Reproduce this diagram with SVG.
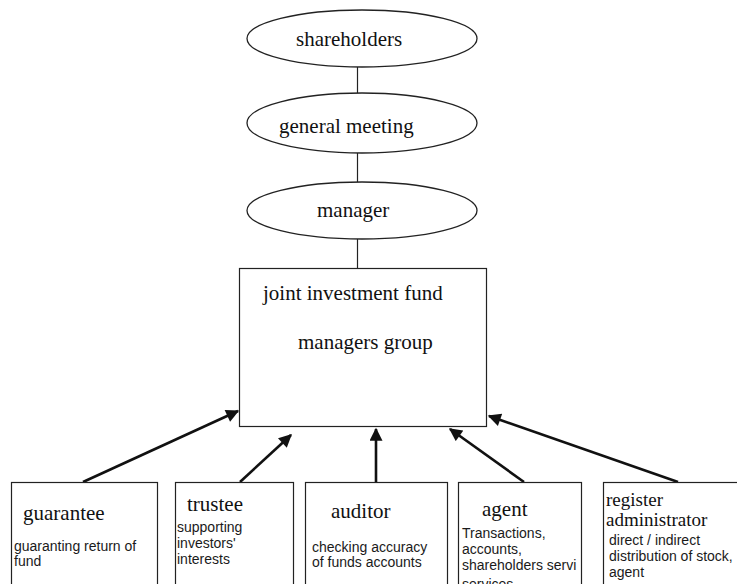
<svg xmlns="http://www.w3.org/2000/svg" width="737" height="584" viewBox="0 0 737 584">
<defs>
<style>
.shape{fill:#fff;stroke:#222;stroke-width:1.3}
.box{fill:#fff;stroke:#222;stroke-width:1.2}
.ser{font-family:"Liberation Serif","Times New Roman",serif;font-size:21px;fill:#111}
.ser19{font-family:"Liberation Serif","Times New Roman",serif;font-size:19px;fill:#111}
.sans{font-family:"Liberation Sans",Arial,sans-serif;font-size:14px;fill:#1a1a1a}
.link{stroke:#222;stroke-width:1.2;fill:none}
.arrow{stroke:#111;stroke-width:2.6;fill:none;marker-end:url(#ah)}
</style>
<marker id="ah" viewBox="0 0 10 10" refX="9" refY="5" markerWidth="5.5" markerHeight="5" orient="auto" markerUnits="strokeWidth">
<path d="M0,0 L10,5 L0,10 z" fill="#111"/>
</marker>
</defs>
<g id="connectors">
<line class="link" x1="357.5" y1="67" x2="357.5" y2="93"/>
<line class="link" x1="357.5" y1="153" x2="357.5" y2="182"/>
<line class="link" x1="357.5" y1="239" x2="357.5" y2="268.5"/>
<line class="arrow" x1="83" y1="482" x2="238" y2="411"/>
<line class="arrow" x1="240" y1="482" x2="291" y2="435"/>
<line class="arrow" x1="376" y1="482" x2="376" y2="429"/>
<line class="arrow" x1="524" y1="482" x2="450" y2="429"/>
<line class="arrow" x1="678" y1="482" x2="489" y2="416"/>
</g>
<g id="shareholders">
<ellipse class="shape" cx="362" cy="38.5" rx="115" ry="28.5"/>
<text class="ser" x="296" y="46">shareholders</text>
</g>
<g id="general-meeting">
<ellipse class="shape" cx="362" cy="123" rx="115" ry="30"/>
<text class="ser" x="279" y="133">general meeting</text>
</g>
<g id="manager">
<ellipse class="shape" cx="362" cy="210.5" rx="115" ry="28.5"/>
<text class="ser" x="317" y="217">manager</text>
</g>
<g id="fund">
<rect class="box" x="239.5" y="268.5" width="247" height="158"/>
<text class="ser" x="263" y="300">joint investment fund</text>
<text class="ser" x="298" y="349">managers group</text>
</g>
<g id="guarantee">
<rect class="box" x="11.5" y="482.5" width="146" height="110"/>
<text class="ser" x="23" y="520">guarantee</text>
<text class="sans" x="14" y="551">guaranting return of</text>
<text class="sans" x="14" y="566">fund</text>
</g>
<g id="trustee">
<rect class="box" x="175.5" y="482.5" width="118" height="110"/>
<text class="ser" x="187" y="511">trustee</text>
<text class="sans" x="177" y="532">supporting</text>
<text class="sans" x="177" y="548">investors'</text>
<text class="sans" x="177" y="564">interests</text>
</g>
<g id="auditor">
<rect class="box" x="305.5" y="482.5" width="142" height="110"/>
<text class="ser" x="331" y="518">auditor</text>
<text class="sans" x="312" y="552">checking accuracy</text>
<text class="sans" x="312" y="567">of funds accounts</text>
</g>
<g id="agent">
<rect class="box" x="458.5" y="482.5" width="123" height="110"/>
<text class="ser" x="482" y="516">agent</text>
<text class="sans" x="462" y="538">Transactions,</text>
<text class="sans" x="462" y="554">accounts,</text>
<text class="sans" x="462" y="570">shareholders servi</text>
<text class="sans" x="462" y="589">services</text>
</g>
<g id="register-administrator">
<rect class="box" x="603.5" y="482.5" width="140" height="110"/>
<text class="ser19" x="606" y="506">register</text>
<text class="ser19" x="606" y="526">administrator</text>
<text class="sans" x="609" y="545">direct / indirect</text>
<text class="sans" x="609" y="561">distribution of stock,</text>
<text class="sans" x="609" y="577">agent</text>
</g>
</svg>
